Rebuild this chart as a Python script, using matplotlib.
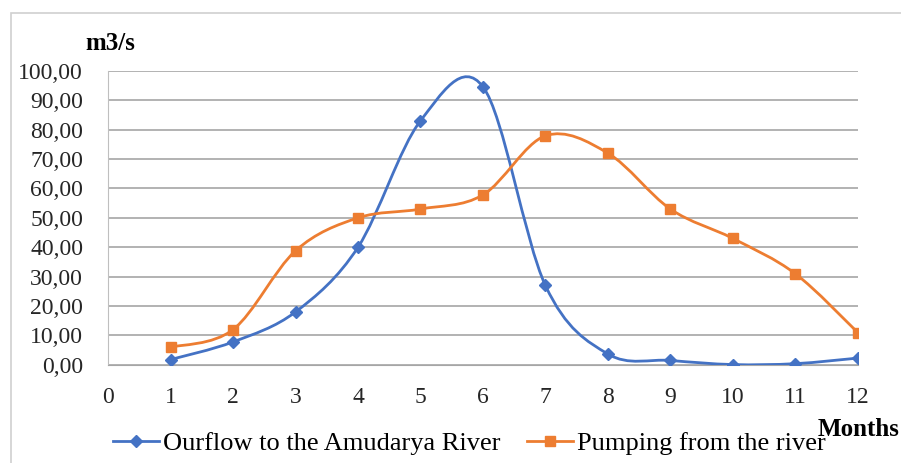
import matplotlib.pyplot as plt
from matplotlib.path import Path
from matplotlib.patches import PathPatch, Rectangle
from matplotlib.lines import Line2D

months = [1, 2, 3, 4, 5, 6, 7, 8, 9, 10, 11, 12]
outflow = [1.8, 7.8, 18.0, 40.0, 83.0, 94.6, 27.0, 3.7, 1.5, 0.1, 0.4, 2.3]
pumping = [6.0, 12.0, 38.8, 50.0, 53.0, 57.8, 77.9, 72.0, 53.0, 43.0, 31.0, 11.0]
x_ticks = list(range(0, 13))
y_ticks = list(range(0, 101, 10))
y_labels = ["%d,00" % v for v in y_ticks]

blue = "#4472C4"
orange = "#ED7D31"

plt.rcParams["font.family"] = ["Liberation Serif", "DejaVu Serif"]


def smooth_path(xs, ys):
    # Excel-style smoothed line: cubic bezier through every point
    pts = list(zip(xs, ys))
    verts = [pts[0]]
    codes = [Path.MOVETO]
    n = len(pts)
    for i in range(n - 1):
        p0 = pts[i - 1] if i > 0 else pts[i]
        p1 = pts[i]
        p2 = pts[i + 1]
        p3 = pts[i + 2] if i + 2 < n else pts[i + 1]
        c1 = (p1[0] + (p2[0] - p0[0]) / 6, p1[1] + (p2[1] - p0[1]) / 6)
        c2 = (p2[0] - (p3[0] - p1[0]) / 6, p2[1] - (p3[1] - p1[1]) / 6)
        verts += [c1, c2, p2]
        codes += [Path.CURVE4] * 3
    return Path(verts, codes)


fig = plt.figure(figsize=(9.01, 4.63), dpi=100)
ax = fig.add_axes([0.12, 0.212, 0.832, 0.635])

fig.patches.append(Rectangle((11 / 901, -0.1), 1.2, 1 - 13 / 463 + 0.1,
                             transform=fig.transFigure, fill=False,
                             edgecolor="#d0d0d0", linewidth=1.2))

ax.add_patch(PathPatch(smooth_path(months, outflow), fill=False,
                       edgecolor=blue, linewidth=2, zorder=3))
ax.add_patch(PathPatch(smooth_path(months, pumping), fill=False,
                       edgecolor=orange, linewidth=2, zorder=3))
ax.plot(months, outflow, linestyle="none", marker="D", markersize=6,
        color=blue, zorder=4)
ax.plot(months, pumping, linestyle="none", marker="s", markersize=7.5,
        color=orange, zorder=4)

ax.set_xlim(0, 12)
ax.set_ylim(0, 100)
ax.set_xticks(x_ticks)
ax.set_yticks(y_ticks)
ax.set_yticklabels(y_labels)
ax.tick_params(axis="both", length=0, labelsize=17, colors="#262626")
ax.tick_params(axis="x", pad=16)
ax.tick_params(axis="y", pad=18)
ax.grid(axis="y", color="#a6a6a6", linewidth=1.2)
ax.set_axisbelow(True)
for side in ["top", "right"]:
    ax.spines[side].set_visible(False)
ax.spines["left"].set_color("#bfbfbf")
ax.spines["bottom"].set_color("#a6a6a6")

fig.text(110 / 901, 1 - 43 / 463, "m3/s", fontsize=18, fontweight="bold",
         ha="center", va="center")
fig.text(899 / 901, 1 - 430 / 463, "Months", fontsize=18, fontweight="bold",
         ha="right", va="center")

handles = [
    Line2D([], [], color=blue, linewidth=2, marker="D", markersize=6),
    Line2D([], [], color=orange, linewidth=2, marker="s", markersize=7.5),
]
fig.legend(handles, ["Ourflow to the Amudarya River", "Pumping from the river"],
           loc="center left", bbox_to_anchor=(113 / 901, 1 - 443 / 463), ncol=2,
           frameon=False, fontsize=19, handlelength=1.75, handletextpad=0.15,
           columnspacing=1.0, borderpad=0, borderaxespad=0)

fig.savefig("out.png", dpi=100)
